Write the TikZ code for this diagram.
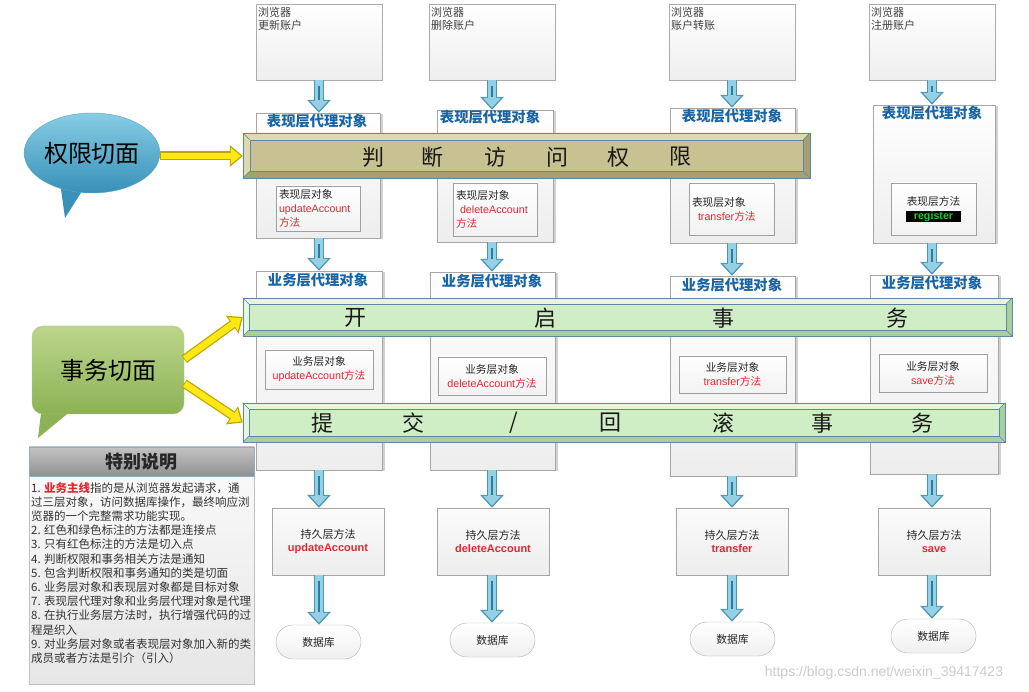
\documentclass[tikz,border=0pt]{standalone}
\usepackage{fontspec}
\setmainfont{Noto Sans CJK SC}
\newfontfamily\lat{Liberation Sans}
\usetikzlibrary{arrows.meta,shadows,shapes.geometric}
\definecolor{abord}{RGB}{75,150,180}
\definecolor{afill}{RGB}{150,208,228}
\definecolor{adark}{RGB}{40,125,160}
\definecolor{ybord}{RGB}{190,165,0}
\definecolor{yfill}{RGB}{255,232,20}
\definecolor{tband}{RGB}{200,194,146}
\definecolor{tbandL}{RGB}{222,217,175}
\definecolor{tbandD}{RGB}{165,160,115}
\definecolor{gband}{RGB}{208,238,198}
\definecolor{gbandL}{RGB}{228,246,220}
\definecolor{gbandD}{RGB}{168,208,158}
\definecolor{bandline}{RGB}{95,135,165}
\definecolor{ttl}{RGB}{25,100,165}
\definecolor{mred}{RGB}{225,40,50}
\definecolor{regg}{RGB}{40,200,40}
\definecolor{callbA}{RGB}{135,205,228}
\definecolor{callbB}{RGB}{55,145,185}
\definecolor{callgA}{RGB}{188,214,140}
\definecolor{callgB}{RGB}{140,178,85}
\definecolor{hdrA}{RGB}{195,195,195}
\definecolor{hdrB}{RGB}{145,145,145}
\newcommand\bevelband[6]{%
 \fill[#3] (#1.north west) -- (#1.north east) -- ([shift={(-#2,#2)}]#1.north east) -- ([shift={(#2,#2)}]#1.north west) -- cycle;
 \fill[#3] (#1.north west) -- ([shift={(#2,#2)}]#1.north west) -- ([shift={(#2,-#2)}]#1.south west) -- (#1.south west) -- cycle;
 \fill[#4] (#1.south west) -- (#1.south east) -- ([shift={(-#2,-#2)}]#1.south east) -- ([shift={(#2,-#2)}]#1.south west) -- cycle;
 \fill[#4] (#1.north east) -- ([shift={(-#2,#2)}]#1.north east) -- ([shift={(-#2,-#2)}]#1.south east) -- (#1.south east) -- cycle;
 \draw[#6, fill=#5] ([shift={(#2,#2)}]#1.north west) rectangle ([shift={(-#2,-#2)}]#1.south east);
 \draw[#6] (#1.north west) -- ([shift={(#2,#2)}]#1.north west) (#1.north east) -- ([shift={(-#2,#2)}]#1.north east) (#1.south west) -- ([shift={(#2,-#2)}]#1.south west) (#1.south east) -- ([shift={(-#2,-#2)}]#1.south east);
 \draw[#6] (#1.north west) rectangle (#1.south east);
}
\begin{document}
\begin{tikzpicture}[x=1pt,y=-1pt,
 browser/.style={draw=gray!65, top color=white, bottom color=gray!13, minimum width=126pt, minimum height=76pt, inner sep=0pt},
 btext/.style={anchor=north west, align=left, inner sep=0pt, font=\fontsize{11}{13.5}\selectfont, text=black!75},
 proxy/.style={draw=gray!70, top color=white, bottom color=gray!14, inner sep=0pt, drop shadow={shadow xshift=2.5pt, shadow yshift=-1pt, opacity=0.35}},
 ptitle/.style={inner sep=0pt, font=\fontsize{14.3}{16}\selectfont\bfseries, text=ttl},
 innerbox/.style={draw=gray!75, top color=white, bottom color=gray!10, inner xsep=3pt, inner ysep=0pt, font=\fontsize{10.7}{14}\selectfont, text=black!85, drop shadow={shadow xshift=1pt, shadow yshift=-1pt, opacity=0.25}},
 pers/.style={draw=gray!70, top color=gray!3, bottom color=gray!14, minimum width=112pt, minimum height=67pt, inner sep=0pt, align=center, font=\fontsize{11}{13.5}\selectfont, text=black!85},
 dbnode/.style={draw=gray!60, rounded corners=17pt, top color=white, bottom color=gray!12, minimum width=85pt, minimum height=34pt, inner sep=0pt, font=\fontsize{10.8}{12}\selectfont, text=black!85},
 band/.style={minimum height=#1, inner sep=0pt},
 bandchar/.style={inner sep=0pt, font=\fontsize{22}{23}\selectfont, text=black!90},
 blockarrow/.style={draw=abord, line width=10.5pt, -{Triangle[length=13pt,width=23pt]}, postaction={draw=afill, line width=7.5pt, -{Triangle[length=10pt,width=17.5pt]}, shorten >=2pt}, postaction={draw=adark, line width=2.6pt, -, shorten >=13pt, shorten <=6pt}},
 yarrow/.style={draw=ybord, line width=9pt, -{Triangle[length=13pt,width=21pt]}, postaction={draw=yfill, line width=6.5pt, -{Triangle[length=10pt,width=16pt]}, shorten >=2pt, shorten <=0.8pt}}
]
\useasboundingbox (0,0) rectangle (1029,692);
\fill[white] (0,0) rectangle (1029,692);

% browser boxes
\node[browser] (b1) at (319,42) {};
\node[btext] (b1t) at (258,7) {浏览器\\更新账户};
\node[browser] (b2) at (492,42) {};
\node[btext] (b2t) at (431,7) {浏览器\\删除账户};
\node[browser] (b3) at (732,42) {};
\node[btext] (b3t) at (671,7) {浏览器\\账户转账};
\node[browser] (b4) at (932,42) {};
\node[btext] (b4t) at (871,7) {浏览器\\注册账户};

% presentation proxy boxes
\node[proxy, minimum width=124pt, minimum height=125pt] (p1) at (318,175.5) {};
\node[proxy, minimum width=116pt, minimum height=132pt] (p2) at (495,176) {};
\node[proxy, minimum width=125pt, minimum height=135pt] (p3) at (732.5,175.5) {};
\node[proxy, minimum width=122pt, minimum height=138pt] (p4) at (934,174) {};
\node[ptitle] (p1t) at (317,121) {表现层代理对象};
\node[ptitle] (p2t) at (490,117) {表现层代理对象};
\node[ptitle] (p3t) at (732,116) {表现层代理对象};
\node[ptitle] (p4t) at (932,113) {表现层代理对象};

\node[innerbox, minimum width=84pt, minimum height=45pt, text width=78pt, align=left] (i1) at (318,208.5) {表现层对象\\{\color{mred}\lat updateAccount}\\{\color{mred}方法}};
\node[innerbox, minimum width=84pt, minimum height=53pt, text width=78pt, align=left] (i2) at (495,209.5) {表现层对象\\\hspace*{4pt}{\color{mred}\lat deleteAccount}\\{\color{mred}方法}};
\node[innerbox, minimum width=85pt, minimum height=52pt, text width=79pt, align=left] (i3) at (731.5,209) {表现层对象\\\hspace*{6pt}{\color{mred}\lat transfer}{\color{mred}方法}};
\node[innerbox, minimum width=85pt, minimum height=52pt, text width=79pt, align=center] (i4) at (933.5,209) {表现层方法\\{\setlength{\fboxsep}{0.5pt}\colorbox{black}{\hspace*{7pt}\textcolor{regg}{\lat\bfseries register}\hspace*{7pt}}}};

% business proxy boxes
\node[proxy, minimum width=126pt, minimum height=199pt] (q1) at (319,370.5) {};
\node[proxy, minimum width=125pt, minimum height=198pt] (q2) at (492.5,371) {};
\node[proxy, minimum width=125pt, minimum height=200pt] (q3) at (732.5,376) {};
\node[proxy, minimum width=128pt, minimum height=199pt] (q4) at (934,374.5) {};
\node[ptitle] (q1t) at (318,280) {业务层代理对象};
\node[ptitle] (q2t) at (492,281) {业务层代理对象};
\node[ptitle] (q3t) at (732,285) {业务层代理对象};
\node[ptitle] (q4t) at (932,283) {业务层代理对象};

\node[innerbox, minimum width=108pt, minimum height=39pt, align=center] (j1) at (319,369.5) {业务层对象\\{\color{mred}\lat updateAccount}{\color{mred}方法}};
\node[innerbox, minimum width=108pt, minimum height=38pt, align=center] (j2) at (492,376) {业务层对象\\{\color{mred}\lat deleteAccount}{\color{mred}方法}};
\node[innerbox, minimum width=107pt, minimum height=37pt, align=center] (j3) at (732.5,374.5) {业务层对象\\{\color{mred}\lat transfer}{\color{mred}方法}};
\node[innerbox, minimum width=108pt, minimum height=38pt, align=center] (j4) at (933,373) {业务层对象\\{\color{mred}\lat save}{\color{mred}方法}};

% persistence boxes
\node[pers] (r1) at (328,541.5) {持久层方法\\{\color{mred}\lat\bfseries updateAccount}};
\node[pers] (r2) at (493,541.5) {持久层方法\\{\color{mred}\lat\bfseries deleteAccount}};
\node[pers] (r3) at (732,541.5) {持久层方法\\{\color{mred}\lat\bfseries transfer}};
\node[pers] (r4) at (934,541.5) {持久层方法\\{\color{mred}\lat\bfseries save}};

% databases
\node[dbnode] (d1) at (318.5,642) {数据库};
\node[dbnode] (d2) at (492.5,640) {数据库};
\node[dbnode] (d3) at (732.5,639) {数据库};
\node[dbnode] (d4) at (933.5,636) {数据库};

% block arrows
\foreach \k in {1,2,3,4}{
 \draw[blockarrow] (b\k.south) -- (b\k.south |- p\k.north);
 \draw[blockarrow] (b\k.south |- p\k.south) -- (b\k.south |- q\k.north);
 \draw[blockarrow] (b\k.south |- q\k.south) -- (b\k.south |- r\k.north);
 \draw[blockarrow] (b\k.south |- r\k.south) -- (b\k.south |- d\k.north);
}

% bands
\node[band=45pt, minimum width=567pt] (tan) at (526.5,155.5) {};
\bevelband{tan}{7}{tbandL}{tbandD}{tband}{bandline}
\foreach \c/\x [count=\i] in {判/373,断/432,访/495,问/557,权/618,限/680}
 \node[bandchar] (tc\i) at (\x,157) {\c};

\node[band=38pt, minimum width=769pt] (gb1) at (627.5,317) {};
\bevelband{gb1}{6}{gbandL}{gbandD}{gband}{bandline}
\foreach \c/\x [count=\i] in {开/355,启/545,事/723,务/897}
 \node[bandchar] (ga\i) at (\x,318) {\c};

\node[band=39pt, minimum width=762pt] (gb2) at (624,422.5) {};
\bevelband{gb2}{6}{gbandL}{gbandD}{gband}{bandline}
\foreach \c/\x [count=\i] in {提/322,交/413,{/}/514,回/610,滚/723,事/822,务/922}
 \node[bandchar] (gc\i) at (\x,423) {\c};

% blue callout
\fill[callbB] (65,218) -- (84,188) -- (60,182) -- cycle;
\node[ellipse, minimum width=122pt, minimum height=80pt, top color=callbA, bottom color=callbB, draw=callbB!80, inner sep=0pt, font=\fontsize{24}{26}\selectfont, text=black] (qx) at (92,153) {权限切面};
\draw[yarrow] ([yshift=-3pt]qx.east) -- ([yshift=-3pt]qx.east -| tan.west);

% green callout
\fill[callgB] (42,405) -- (38,438) -- (72,410) -- cycle;
\node[rounded corners=11pt, minimum width=152pt, minimum height=88pt, top color=callgA, bottom color=callgB, draw=callgB!70, inner sep=0pt, font=\fontsize{24}{26}\selectfont, text=black] (gx) at (108,370) {事务切面};
\draw[yarrow] (gx.8) -- (gb1.west);
\draw[yarrow] (gx.-10) -- (gb2.west);

% note box
\node[draw=gray!50, top color=gray!3, bottom color=gray!20, minimum width=225pt, minimum height=237pt, inner sep=0pt] (note) at (141.5,565.5) {};
\node[draw=bandline!70, top color=hdrA, bottom color=hdrB, minimum width=225pt, minimum height=29pt, inner sep=0pt, font=\fontsize{18}{20}\selectfont\bfseries, text=black!85] (hdr) at (141.5,461.5) {特别说明};
\node[anchor=north west, align=left, inner sep=0pt, font=\fontsize{11.5}{14.2}\selectfont, text=black!80] (notetext) at (31,482) {1. {\color{mred}\bfseries 业务主线}指的是从浏览器发起请求，通\\
过三层对象，访问数据库操作，最终响应浏\\
览器的一个完整需求功能实现。\\
2. 红色和绿色标注的方法都是连接点\\
3. 只有红色标注的方法是切入点\\
4. 判断权限和事务相关方法是通知\\
5. 包含判断权限和事务通知的类是切面\\
6. 业务层对象和表现层对象都是目标对象\\
7. 表现层代理对象和业务层代理对象是代理\\
8. 在执行业务层方法时，执行增强代码的过\\
程是织入\\
9. 对业务层对象或者表现层对象加入新的类\\
成员或者方法是引介（引入）};

% watermark
\node[inner sep=0pt, font=\lat\fontsize{14}{16}\selectfont, text=gray!40] (wm) at (884,673) {https://blog.csdn.net/weixin\_39417423};
\end{tikzpicture}
\end{document}
